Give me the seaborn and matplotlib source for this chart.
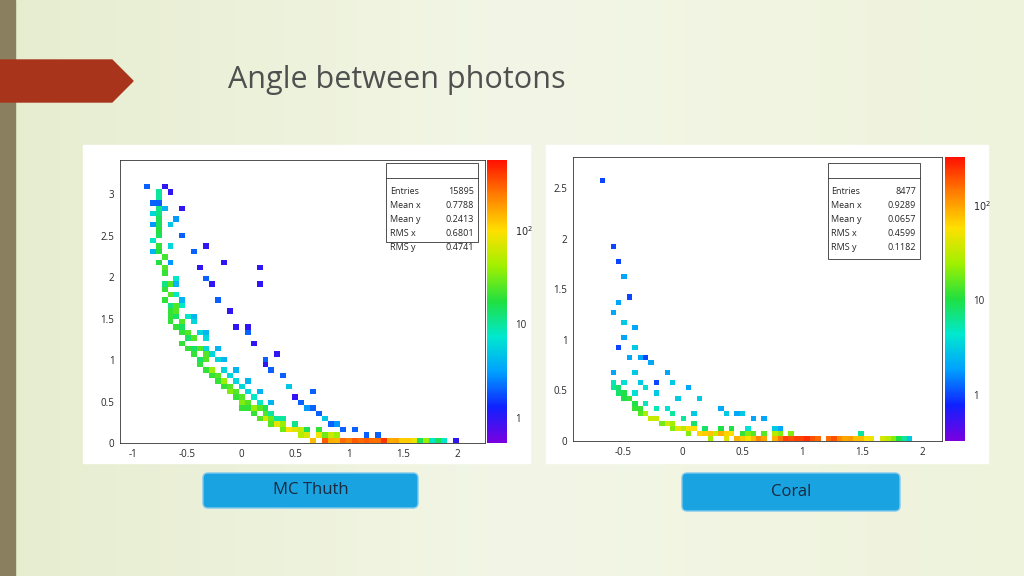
import numpy as np
import matplotlib
matplotlib.use("Agg")
import matplotlib.pyplot as plt
from matplotlib.colors import LogNorm, LinearSegmentedColormap
from matplotlib.patches import FancyBboxPatch, Polygon, Rectangle
import seaborn as sns

sns.set_style("white")
plt.rcParams["font.family"] = "Open Sans"

# ---------- data ----------
# MC truth: band core
mc_core_x = [-0.78,-0.77,-0.76,-0.75,-0.74,-0.72,-0.70,-0.68,-0.65,-0.62,-0.58,-0.54,-0.50,-0.45,-0.40,-0.35,-0.30,-0.25,-0.20,-0.15,-0.10,-0.05,0.00,0.05,0.10,0.15,0.20,0.25,0.30,0.35,0.40,0.45,0.50,0.55,0.60,0.70,0.80,0.90,1.00,1.10,1.20,1.30,1.40,1.50,1.60,1.70,1.80,1.90,2.00]
mc_core_y = [3.00,2.85,2.70,2.55,2.40,2.25,2.10,1.95,1.80,1.68,1.56,1.45,1.35,1.25,1.15,1.06,0.98,0.90,0.83,0.76,0.69,0.62,0.56,0.50,0.45,0.40,0.35,0.31,0.27,0.23,0.20,0.17,0.15,0.13,0.11,0.08,0.06,0.04,0.03,0.02,0.02,0.01,0.01,0.01,0.01,0.01,0.01,0.01,0.01]
mc_core_c = [10,12,15,18,20,22,25,25,25,25,25,25,25,25,25,25,25,25,25,25,25,25,25,25,25,25,25,30,30,35,40,40,50,60,70,90,110,150,200,250,250,200,160,120,80,40,15,5,1]
# MC truth: band fill (between core cells)
mc_fill_x = [-0.79,-0.78,-0.77,-0.76,-0.75,-0.74,-0.73,-0.71,-0.69,-0.67,-0.66,-0.63,-0.60,-0.56,-0.52,-0.47,-0.42,-0.37,-0.32,-0.27,-0.22,-0.17,-0.12,-0.07,-0.02,0.03,0.08,0.13,0.18,0.23,0.28,0.33,0.38,0.45,0.55,0.65,0.75,0.85,0.95,1.05,1.15,1.25,1.35,1.45,1.55,1.65,1.75,1.85,0.65,0.75,0.85,0.95,1.05,1.15,1.25,1.35,1.45,1.55]
mc_fill_y = [2.93,2.78,2.63,2.48,2.33,2.18,2.03,1.88,1.75,1.62,1.50,1.45,1.40,1.30,1.22,1.13,1.05,0.97,0.90,0.82,0.75,0.68,0.62,0.56,0.50,0.45,0.40,0.36,0.32,0.28,0.24,0.21,0.18,0.13,0.09,0.06,0.05,0.07,0.05,0.04,0.03,0.03,0.02,0.04,0.02,0.02,0.01,0.01,0.01,0.01,0.01,0.01,0.01,0.01,0.01,0.01,0.01,0.01]
mc_fill_c = [10,12,15,15,18,18,20,20,20,20,20,20,20,20,20,20,20,20,20,20,20,20,20,20,20,20,20,20,25,25,25,30,30,40,50,60,80,60,80,70,60,50,40,30,20,15,8,3,80,120,160,200,250,250,220,180,140,100]
# MC truth: halo around band
mc_halo_x = [-0.70,-0.68,-0.66,-0.62,-0.58,-0.55,-0.50,-0.45,-0.40,-0.35,-0.30,-0.25,-0.20,-0.15,-0.10,-0.05,0.00,0.05,0.10,0.15,0.20,0.25,0.30,0.35,0.40,0.50,0.60,0.70,0.80,0.90,1.00,1.10,1.20,1.30,-0.82,-0.80,-0.70,-0.64,-0.60,-0.56,-0.48,-0.42,-0.36,-0.28,-0.18,-0.08,0.02,0.12,0.22,0.32,0.42,0.52,-0.84,-0.83,-0.81,-0.66,-0.62,-0.52,-0.44,-0.34,-0.24,-0.14,-0.04,0.06,0.16,0.26]
mc_halo_y = [2.85,2.60,2.35,2.00,1.80,1.65,1.55,1.45,1.35,1.25,1.15,1.05,0.98,0.90,0.82,0.75,0.70,0.62,0.56,0.50,0.45,0.40,0.35,0.31,0.27,0.21,0.17,0.13,0.10,0.08,0.06,0.05,0.04,0.03,2.75,2.45,1.90,1.65,1.50,1.40,1.25,1.12,1.00,0.90,0.75,0.62,0.50,0.40,0.31,0.24,0.18,0.13,2.90,2.60,2.30,2.20,1.90,1.70,1.50,1.35,1.15,1.00,0.85,0.72,0.60,0.50]
mc_halo_c = [4,5,6,8,8,8,8,6,6,6,6,6,6,6,6,6,6,6,8,8,8,8,10,10,10,12,15,20,30,40,40,30,20,10,6,8,12,12,14,14,14,14,14,14,14,14,14,14,14,14,20,25,2,3,4,3,4,4,4,4,4,4,4,4,4,4]
# MC truth: sparse outliers
mc_out_x = [-0.85,-0.75,-0.65,-0.60,-0.55,-0.45,-0.40,-0.30,-0.25,-0.20,-0.10,-0.05,0.05,0.10,0.20,0.25,0.30,0.40,0.45,0.50,0.55,0.60,0.65,0.70,0.75,0.80,0.85,0.90,0.95,1.05,1.15,1.25,1.45,1.60,-0.70,-0.55,-0.35,-0.15,0.15,0.35,0.45,0.65,0.15,0.05]
mc_out_y = [3.10,2.90,3.00,2.70,2.50,2.30,2.10,2.00,1.90,1.70,1.60,1.40,1.30,1.20,1.00,0.95,0.85,0.80,0.65,0.55,0.50,0.45,0.40,0.35,0.30,0.30,0.25,0.20,0.18,0.15,0.12,0.10,0.06,0.05,3.10,2.80,2.40,2.20,1.90,1.10,0.70,0.60,2.10,1.40]
mc_out_c = [2,2,1,3,2,2,1,2,1,2,1,1,2,1,2,1,2,2,2,1,2,3,2,2,3,2,2,3,2,2,2,2,2,2,1,1,1,1,1,1,3,2,1,1]

# Coral: band
co_core_x = [-0.60,-0.55,-0.50,-0.45,-0.40,-0.35,-0.30,-0.25,-0.20,-0.15,-0.10,-0.05,0.00,0.05,0.10,0.15,0.20,0.25,0.30,0.35,0.40,0.50,0.60,0.70,0.80,0.90,1.00,1.10,1.20,1.30,1.40,1.50,1.60,1.70,1.80,1.90]
co_core_y = [0.60,0.50,0.45,0.40,0.35,0.30,0.26,0.23,0.20,0.18,0.16,0.14,0.12,0.11,0.10,0.09,0.08,0.07,0.06,0.05,0.05,0.04,0.03,0.03,0.02,0.02,0.02,0.01,0.01,0.01,0.01,0.01,0.01,0.01,0.01,0.01]
co_core_c = [5,8,10,12,12,15,15,20,20,20,25,25,30,30,35,35,40,40,50,50,60,70,80,100,150,200,200,180,150,120,100,80,50,30,10,3]
co_fill_x = [-0.58,-0.52,-0.47,-0.42,-0.37,-0.32,-0.27,-0.22,-0.17,-0.12,-0.07,-0.02,0.03,0.08,0.13,0.18,0.23,0.28,0.33,0.38,0.45,0.55,0.65,0.75,0.85,0.95,1.05,1.15,1.25,1.35,1.45,1.55,1.65,1.75,1.85,0.35,0.55,0.75,0.95,1.15]
co_fill_y = [0.52,0.47,0.42,0.37,0.33,0.28,0.24,0.21,0.19,0.17,0.15,0.13,0.12,0.10,0.09,0.08,0.07,0.06,0.05,0.04,0.04,0.03,0.02,0.02,0.01,0.01,0.01,0.01,0.01,0.01,0.01,0.01,0.01,0.01,0.01,0.09,0.07,0.06,0.04,0.04]
co_fill_c = [6,8,10,10,12,12,15,15,18,18,20,20,25,25,30,30,35,35,40,45,50,60,70,90,140,180,160,140,120,100,80,60,40,20,6,15,20,30,40,25]
co_halo_x = [-0.50,-0.40,-0.30,-0.20,-0.10,0.00,0.10,0.20,0.30,0.40,0.50,0.60,0.70,0.80,0.90,1.00,1.10,1.20,1.30,1.40,0.05,0.25,0.45,0.65,0.85,1.05,1.25,1.50]
co_halo_y = [0.55,0.45,0.38,0.32,0.25,0.22,0.18,0.15,0.12,0.10,0.09,0.07,0.06,0.05,0.05,0.04,0.04,0.03,0.03,0.03,0.06,0.04,0.03,0.01,0.01,0.01,0.01,0.05]
co_halo_c = [4,4,5,5,6,6,8,8,10,10,12,15,15,20,20,20,15,10,8,5,20,25,40,60,80,100,80,6]
co_out_x = [-0.65,-0.60,-0.55,-0.50,-0.45,-0.55,-0.60,-0.48,-0.42,-0.50,-0.40,-0.35,-0.30,-0.38,-0.25,-0.20,-0.15,-0.10,-0.55,-0.45,-0.30,-0.20,-0.05,0.05,0.15,0.30,0.45,0.50,0.60,0.70,0.75,0.80,-0.60,-0.35,-0.15,0.10,0.35,0.55]
co_out_y = [2.58,1.95,1.75,1.60,1.45,1.35,1.25,1.20,1.10,1.00,0.95,0.85,0.80,0.70,0.75,0.60,0.65,0.55,0.90,0.80,0.50,0.45,0.40,0.50,0.40,0.35,0.30,0.25,0.20,0.20,0.15,0.15,0.70,0.55,0.35,0.30,0.25,0.15]
co_out_c = [1,1,1,2,1,2,2,3,2,2,3,2,1,3,2,1,2,3,1,2,4,3,3,2,3,2,2,3,2,2,3,2,2,3,4,3,3,4]

mc_stats = [("Entries", "15895"), ("Mean x", "0.7788"), ("Mean y", "0.2413"), ("RMS x", "0.6801"), ("RMS y", "0.4741")]
co_stats = [("Entries", "8477"), ("Mean x", "0.9289"), ("Mean y", "0.0657"), ("RMS x", "0.4599"), ("RMS y", "0.1182")]
labels = ["MC Thuth", "Coral"]

# ---------- figure ----------
W, H = 1024, 576
fig = plt.figure(figsize=(10.24, 5.76), dpi=100)
bg = fig.add_axes([0, 0, 1, 1]); bg.set_xlim(0, W); bg.set_ylim(H, 0); bg.axis("off")
grad = np.linspace(0, 1, 256)[None, :]
bg.imshow(grad, extent=[0, W, H, 0], aspect="auto",
          cmap=LinearSegmentedColormap.from_list("g", ["#e6edcf", "#f3f6e6", "#eef3dc"]))
bg.add_patch(Rectangle((0, 0), 15, H, color="#8a8060"))
bg.add_patch(Polygon([(0, 60), (112, 60), (133, 81), (112, 102), (0, 102)], color="#a8341c"))
bg.text(228, 80, "Angle between photons", fontsize=22, color="#505050", va="center")
bg.add_patch(Rectangle((83, 145), 447, 318, color="white"))
bg.add_patch(Rectangle((546, 145), 442, 318, color="white"))
for (x0, x1, y0, y1), t in zip([(203, 418, 473, 508), (682, 900, 473, 511)], labels):
    bg.add_patch(FancyBboxPatch((x0, y0), x1 - x0, y1 - y0, boxstyle="round,pad=0,rounding_size=5",
                                fc="#19a3e0", ec="#7fc8ee", lw=1))
    bg.text((x0 + x1) / 2, (y0 + y1) / 2, t, ha="center", va="center", fontsize=12, color="#1a2a40")

cmap = LinearSegmentedColormap.from_list("root", ["#7a00e0", "#1020ff", "#00a0ff", "#00e8d0",
                                                  "#20e040", "#a0f000", "#ffe000", "#ff8000", "#ff1000"])

def fx(x): return x / W
def panel(rect, cbrect, xs, ys, cs, xlim, ylim, bw, vlim, xt, yt, stats, statbox, cbt):
    ax = fig.add_axes(rect)
    xe = np.arange(xlim[0], xlim[1] + bw[0], bw[0])
    ye = np.arange(0, ylim[1] + bw[1], bw[1])
    h, _, _ = np.histogram2d(xs, ys, bins=[xe, ye], weights=cs)
    h = np.where(h > 0, h, np.nan)
    norm = LogNorm(vmin=vlim[0], vmax=vlim[1])
    m = ax.pcolormesh(xe, ye, h.T, cmap=cmap, norm=norm)
    ax.set_xlim(*xlim); ax.set_ylim(*ylim)
    ax.set_xticks(xt); ax.set_xticklabels([f"{v:g}" for v in xt])
    ax.set_yticks(yt); ax.set_yticklabels([f"{v:g}" for v in yt])
    ax.tick_params(labelsize=7, length=3, direction="in", pad=4)
    for s in ax.spines.values(): s.set_linewidth(0.6); s.set_color("#333")
    bx, by, bw_, bh = statbox
    ax.add_patch(Rectangle((bx, by), bw_, bh, transform=ax.transAxes, fc="white", ec="#333", lw=0.6, zorder=5))
    ax.plot([bx, bx + bw_], [by + bh - 0.055, by + bh - 0.055], transform=ax.transAxes, color="#333", lw=0.6, zorder=6)
    for i, (k, v) in enumerate(stats):
        yy = by + bh - 0.1 - i * 0.05
        ax.text(bx + 0.01, yy, k, transform=ax.transAxes, fontsize=6.5, va="center", zorder=7)
        ax.text(bx + bw_ - 0.01, yy, v, transform=ax.transAxes, fontsize=6.5, va="center", ha="right", zorder=7)
    cax = fig.add_axes(cbrect)
    cb = fig.colorbar(m, cax=cax)
    cb.set_ticks(cbt); cb.set_ticklabels(["1", "10", "$10^2$"][:len(cbt)])
    cb.ax.tick_params(labelsize=7, length=0, pad=6)
    cb.ax.minorticks_off()
    cb.outline.set_visible(False)

panel([fx(120), 1 - 443 / H, fx(365), 283 / H], [fx(487), 1 - 443 / H, fx(20), 283 / H],
      mc_core_x + mc_fill_x + mc_halo_x + mc_out_x, mc_core_y + mc_fill_y + mc_halo_y + mc_out_y,
      mc_core_c + mc_fill_c + mc_halo_c + mc_out_c,
      (-1.12, 2.26), (0, 3.41), (0.055, 0.065), (0.54, 575),
      [-1, -0.5, 0, 0.5, 1, 1.5, 2], [0, 0.5, 1, 1.5, 2, 2.5, 3], mc_stats,
      (0.73, 0.71, 0.25, 0.28), [1, 10, 100])
panel([fx(573), 1 - 441 / H, fx(369), 284 / H], [fx(945), 1 - 441 / H, fx(20), 284 / H],
      co_core_x + co_fill_x + co_halo_x + co_out_x, co_core_y + co_fill_y + co_halo_y + co_out_y,
      co_core_c + co_fill_c + co_halo_c + co_out_c,
      (-0.918, 2.167), (0, 2.81), (0.045, 0.05), (0.326, 330),
      [-0.5, 0, 0.5, 1, 1.5, 2], [0, 0.5, 1, 1.5, 2, 2.5], co_stats,
      (0.69, 0.64, 0.25, 0.34), [1, 10, 100])

fig.savefig("out.png", dpi=100)
